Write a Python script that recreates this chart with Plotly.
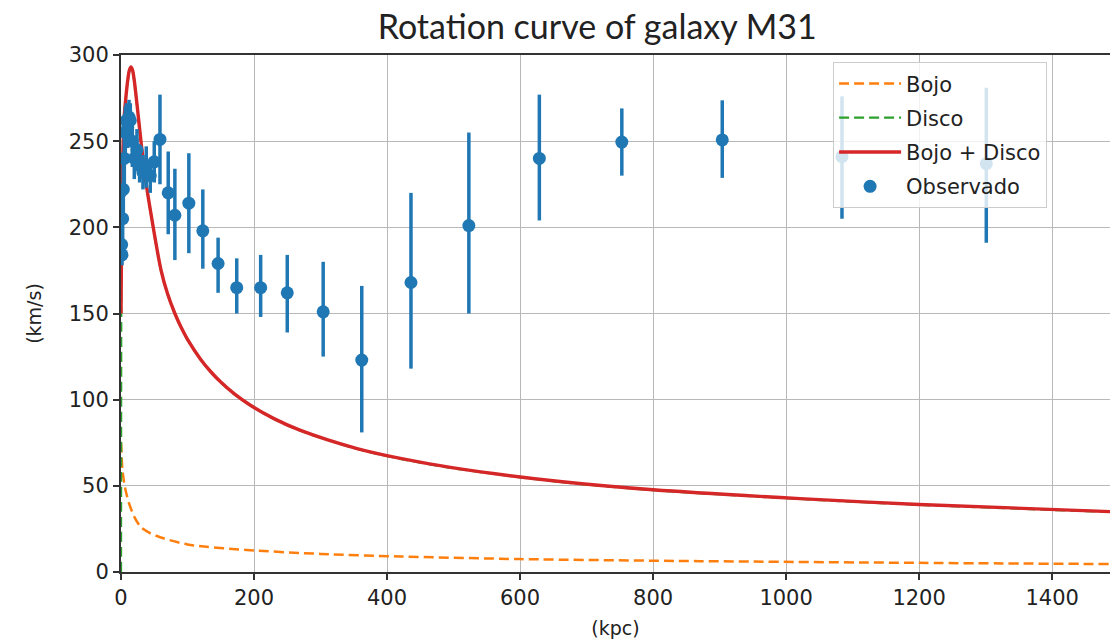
import plotly.graph_objects as go

# Observed data (kpc, km/s) with asymmetric errors
obs_x = [1, 1.5, 2.5, 3.5, 5, 6.5, 8, 10, 12, 14, 17, 20, 24, 28, 33, 38, 44, 50, 58.6,
         71, 81, 102, 123, 146, 174, 210, 250, 304, 362, 436, 523, 629, 753, 904, 1084, 1301]
obs_v = [190, 184, 205, 222, 240, 255, 262, 258, 264, 262, 250, 240, 245, 236, 232, 235, 230, 238, 251,
         220, 207, 214, 198, 179, 165, 165, 162, 151, 123, 168, 201, 240, 249.5, 250.7, 241, 237]
obs_up = [8, 6, 15, 20, 22, 15, 10, 12, 10, 10, 15, 12, 12, 10, 10, 12, 10, 12, 26,
          24, 27, 29, 24, 15, 17, 19, 22, 29, 43, 52, 54, 37, 19.5, 23, 35, 44]
obs_dn = [8, 6, 15, 20, 22, 15, 10, 12, 10, 10, 15, 12, 12, 10, 10, 12, 10, 12, 26,
          24, 26, 29, 22, 17, 15, 17, 23, 26, 42, 50, 51, 36, 19.5, 22, 36, 46]

# Bulge (Bojo)
bojo_x = [0, 0.5, 2, 6, 12, 20, 30, 43.6, 60, 100, 189, 300, 420, 600, 870, 1200, 1490]
bojo_v = [75, 72, 60, 49, 40, 32, 26, 22.6, 20, 16, 12.8, 10.5, 9, 7.5, 6.3, 5.3, 4.6]

# Total (Bojo + Disco)
tot_x = [0, 0.5, 1.5, 3, 5, 7.5, 10, 12.5, 15, 17.5, 20, 25, 30, 37.6, 45, 60, 70, 81, 90, 100,
         119, 135, 150, 170, 194, 230, 269, 355, 420, 500, 660, 800, 1021, 1200, 1490]
tot_v = [150, 175, 210, 245, 265, 276, 285, 291, 293, 291, 285, 268, 250, 226, 208, 175.5, 161.4, 150, 142.3,
         135, 123.8, 116.2, 110.2, 103.5, 96.9, 89, 82.3, 71.6, 65.9, 60.4, 52.5, 47.7, 42.6, 39.2, 35]

# Disk (Disco) - lies just under the total curve, visible only near the centre
disco_x = [0, 0.3, 0.5, 1.5, 3, 5, 7.5, 10, 12.5, 15, 17.5, 20, 25, 30, 37.6, 45, 60, 70, 81, 90, 100,
           119, 135, 150, 170, 194, 230, 269, 355, 420, 500, 660, 800, 1021, 1200, 1490]
disco_v = [0, 148, 174.8, 209.8, 244.8, 264.8, 275.8, 284.8, 290.8, 292.8, 290.8, 284.8, 267.8, 249.8,
           225.8, 207.8, 175.3, 161.2, 149.8, 142.1, 134.8, 123.6, 116, 110, 103.3, 96.7, 88.8, 82.1,
           71.4, 65.7, 60.2, 52.3, 47.5, 42.4, 39, 34.8]

x_ticks = [0, 200, 400, 600, 800, 1000, 1200, 1400]
y_ticks = [0, 50, 100, 150, 200, 250, 300]

fig = go.Figure()
fig.add_trace(go.Scatter(x=bojo_x, y=bojo_v, mode="lines", name="Bojo", legendgroup="a",
                         line=dict(color="#ff7f0e", width=2.5, dash="10px,5px", shape="spline", smoothing=0.8)))
fig.add_trace(go.Scatter(x=disco_x, y=disco_v, mode="lines", name="Disco", legendgroup="b",
                         line=dict(color="#2ca02c", width=2.3, dash="10px,5px", shape="spline", smoothing=0.8)))
fig.add_trace(go.Scatter(x=tot_x, y=tot_v, mode="lines", name="Bojo + Disco", legendgroup="c",
                         line=dict(color="#d62728", width=3.4, shape="spline", smoothing=0.8)))
fig.add_trace(go.Scatter(x=obs_x, y=obs_v, mode="markers", name="Observado", legendgroup="d",
                         marker=dict(color="#1f77b4", size=13),
                         error_y=dict(type="data", symmetric=False, array=obs_up, arrayminus=obs_dn,
                                      color="#1f77b4", thickness=3.5, width=0)))

fig.update_layout(
    width=1110, height=644,
    margin=dict(l=121, r=0, t=55, b=72),
    paper_bgcolor="white", plot_bgcolor="white",
    title=dict(text="Rotation curve of galaxy M31", x=0.538, xanchor="center",
               y=0.958, yanchor="middle", font=dict(family="Lato", size=34, color="#222")),
    font=dict(family="DejaVu Sans", color="#222"),
    legend=dict(x=0.72, y=0.986, xanchor="left", yanchor="top",
                bgcolor="rgba(255,255,255,0.8)", bordercolor="#cccccc", borderwidth=1,
                font=dict(size=21, family="DejaVu Sans", color="#222"),
                traceorder="grouped", tracegroupgap=4, itemwidth=62),
    xaxis=dict(range=[0, 1487], tickvals=x_ticks, showgrid=True, gridcolor="#b8b8b8", gridwidth=1,
               showline=True, linecolor="#333", linewidth=2, mirror=True,
               ticks="outside", ticklen=6, tickwidth=1.5, tickcolor="#333",
               tickfont=dict(size=21), zeroline=False,
               title=dict(text="(kpc)", font=dict(size=19), standoff=12)),
    yaxis=dict(range=[0, 300], tickvals=y_ticks, showgrid=True, gridcolor="#b8b8b8", gridwidth=1,
               showline=True, linecolor="#333", linewidth=2,
               ticks="outside", ticklen=6, tickwidth=1.5, tickcolor="#333",
               tickfont=dict(size=21), zeroline=False, ticksuffix="\u00a0\u00a0",
               title=dict(text="(km/s)", font=dict(size=19), standoff=22)),
)

fig.write_html("out.html")
